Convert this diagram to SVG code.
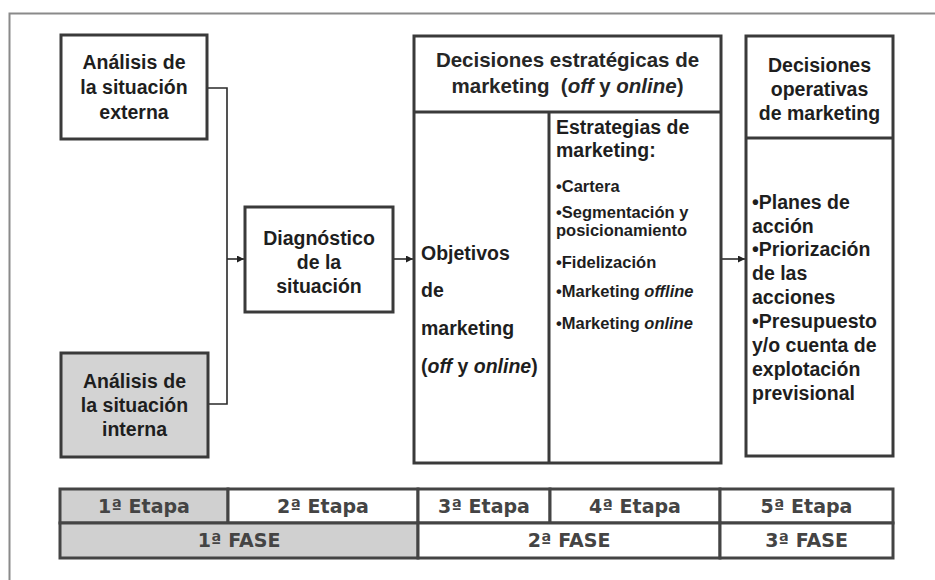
<svg xmlns="http://www.w3.org/2000/svg" width="935" height="580" viewBox="0 0 935 580">
  <defs>
    <marker id="arrow" viewBox="0 0 10 10" refX="10" refY="5" markerWidth="7" markerHeight="7" markerUnits="userSpaceOnUse" orient="auto">
      <path d="M0,0 L10,5 L0,10 Z" fill="#222"/>
    </marker>
    <style>
      .frame { fill: none; stroke: #8a8a8a; stroke-width: 2; }
      .box { fill: #ffffff; stroke: #3a3a3a; stroke-width: 3; }
      .box.gray { fill: #d3d3d3; }
      .div { stroke: #3a3a3a; stroke-width: 3; }
      .link { fill: none; stroke: #2a2a2a; stroke-width: 1.6; }
      .t { font-family: "Liberation Sans", Arial, sans-serif; font-weight: bold; font-size: 19.5px; fill: #1e1e1e; }
      .c { text-anchor: middle; }
      .hd { font-size: 20.5px; fill: #262626; }
      .sm { font-size: 16.5px; }
      .tab { font-family: "DejaVu Sans", Verdana, sans-serif; font-weight: bold; font-size: 19px; fill: #444; text-anchor: middle; }
      .cell { fill: #ffffff; stroke: #444; stroke-width: 3; }
      .cell.gray { fill: #d0d0d0; }
      .i { font-style: italic; }
    </style>
  </defs>
  <rect width="935" height="580" fill="#ffffff"/>

  <!-- page frame (top and left rules) -->
  <path class="frame" d="M9.5,580 V13.5 H935"/>

  <!-- connectors -->
  <g id="connectors">
    <path class="link" d="M207,88 H227 V404 H208"/>
    <path class="link" d="M227,259 H244" marker-end="url(#arrow)"/>
    <path class="link" d="M393,259 H413" marker-end="url(#arrow)"/>
    <path class="link" d="M721,259 H745" marker-end="url(#arrow)"/>
  </g>

  <g id="analisis-externa">
    <rect class="box" x="61" y="35" width="146" height="104"/>
    <text class="t c" x="134" y="69">Análisis de</text>
    <text class="t c" x="134" y="94">la situación</text>
    <text class="t c" x="134" y="119">externa</text>
  </g>

  <g id="analisis-interna">
    <rect class="box gray" x="61" y="353" width="147" height="104"/>
    <text class="t c" x="134.5" y="388">Análisis de</text>
    <text class="t c" x="134.5" y="412">la situación</text>
    <text class="t c" x="134.5" y="436">interna</text>
  </g>

  <g id="diagnostico">
    <rect class="box" x="245" y="207" width="148" height="105"/>
    <text class="t c" x="319" y="245">Diagnóstico</text>
    <text class="t c" x="319" y="269">de la</text>
    <text class="t c" x="319" y="293">situación</text>
  </g>

  <g id="decisiones-estrategicas">
    <rect class="box" x="414" y="36" width="307" height="427"/>
    <line class="div" x1="414" y1="112" x2="721" y2="112"/>
    <line class="div" x1="549" y1="112" x2="549" y2="463"/>
    <text class="t c hd" x="567.5" y="67">Decisiones estratégicas de</text>
    <text class="t c hd" x="567.5" y="93" xml:space="preserve">marketing  (<tspan class="i">off</tspan> y <tspan class="i">online</tspan>)</text>
    <!-- objectives column -->
    <text class="t" x="421" y="260">Objetivos</text>
    <text class="t" x="421" y="297">de</text>
    <text class="t" x="421" y="335">marketing</text>
    <text class="t" x="421" y="373">(<tspan class="i">off</tspan> y <tspan class="i">online</tspan>)</text>
    <!-- strategies column -->
    <text class="t" x="556" y="134">Estrategias de</text>
    <text class="t" x="556" y="157">marketing:</text>
    <text class="t sm" x="556" y="192">•Cartera</text>
    <text class="t sm" x="556" y="218">•Segmentación y</text>
    <text class="t sm" x="556" y="236">posicionamiento</text>
    <text class="t sm" x="556" y="268">•Fidelización</text>
    <text class="t sm" x="556" y="297">•Marketing <tspan class="i">offline</tspan></text>
    <text class="t sm" x="556" y="329">•Marketing <tspan class="i">online</tspan></text>
  </g>

  <g id="decisiones-operativas">
    <rect class="box" x="746" y="36" width="147" height="420"/>
    <line class="div" x1="746" y1="138" x2="893" y2="138"/>
    <text class="t c" x="819.5" y="72">Decisiones</text>
    <text class="t c" x="819.5" y="96">operativas</text>
    <text class="t c" x="819.5" y="120">de marketing</text>
    <text class="t" x="752" y="209">•Planes de</text>
    <text class="t" x="752" y="233">acción</text>
    <text class="t" x="752" y="256">•Priorización</text>
    <text class="t" x="752" y="280">de las</text>
    <text class="t" x="752" y="304">acciones</text>
    <text class="t" x="752" y="328">•Presupuesto</text>
    <text class="t" x="752" y="352">y/o cuenta de</text>
    <text class="t" x="752" y="376">explotación</text>
    <text class="t" x="752" y="400">previsional</text>
  </g>

  <!-- stage / phase table -->
  <g id="etapas">
    <rect class="cell gray" x="60" y="489" width="168" height="34"/>
    <rect class="cell" x="228" y="489" width="190" height="34"/>
    <rect class="cell" x="418" y="489" width="132" height="34"/>
    <rect class="cell" x="550" y="489" width="170" height="34"/>
    <rect class="cell" x="720" y="489" width="173" height="34"/>
    <text class="tab" x="144" y="513">1ª Etapa</text>
    <text class="tab" x="323" y="513">2ª Etapa</text>
    <text class="tab" x="484" y="513">3ª Etapa</text>
    <text class="tab" x="635" y="513">4ª Etapa</text>
    <text class="tab" x="806.5" y="513">5ª Etapa</text>
  </g>
  <g id="fases">
    <rect class="cell gray" x="60" y="523" width="358" height="35"/>
    <rect class="cell" x="418" y="523" width="302" height="35"/>
    <rect class="cell" x="720" y="523" width="173" height="35"/>
    <text class="tab" x="239" y="547">1ª FASE</text>
    <text class="tab" x="569" y="547">2ª FASE</text>
    <text class="tab" x="806.5" y="547">3ª FASE</text>
  </g>
</svg>
